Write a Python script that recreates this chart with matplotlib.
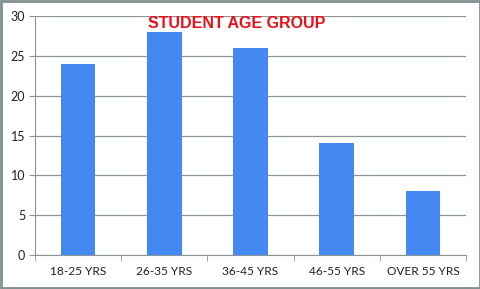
import matplotlib
matplotlib.use("Agg")
import matplotlib.pyplot as plt
from matplotlib.patches import Rectangle

categories = ["18-25 YRS", "26-35 YRS", "36-45 YRS", "46-55 YRS", "OVER 55 YRS"]
students = [24, 28, 26, 14, 8]
y_ticks = [0, 5, 10, 15, 20, 25, 30]

BAR_COLOR = "#4489f2"
AXIS_COLOR = "#8c9696"

fig = plt.figure(figsize=(4.81, 2.89), dpi=100)
ax = fig.add_axes([0.0728, 0.1176, 0.896, 0.827])

x = list(range(len(categories)))
ax.bar(x, students, width=0.4, color=BAR_COLOR, zorder=3)

ax.set_xlim(-0.5, len(categories) - 0.5)
ax.set_ylim(0, 30)
ax.set_yticks(y_ticks)
ax.yaxis.grid(True, color=AXIS_COLOR, linewidth=0.9, zorder=0)

# category labels centred under bars, tick marks at boundaries
ax.set_xticks(x)
ax.set_xticklabels(categories)
ax.tick_params(axis="x", length=0, pad=8)
ax.set_xticks([i - 0.5 for i in range(len(categories) + 1)], minor=True)
ax.tick_params(axis="x", which="minor", length=4, color=AXIS_COLOR, direction="out")
ax.tick_params(axis="y", length=4, color=AXIS_COLOR, direction="out", pad=3)

for lab in ax.get_xticklabels() + ax.get_yticklabels():
    lab.set_fontfamily("Lato")
    lab.set_color("#222222")
ax.tick_params(axis="x", labelsize=8.6)
ax.tick_params(axis="y", labelsize=9)

for s in ["top", "right"]:
    ax.spines[s].set_visible(False)
ax.spines["left"].set_color(AXIS_COLOR)
ax.spines["bottom"].set_color(AXIS_COLOR)

fig.text(0.493, 0.92, "STUDENT AGE GROUP", color="#e8101a", fontsize=11.5,
         fontweight="bold", family="Liberation Sans", ha="center", va="center")

fig.patches.append(Rectangle((0.002, 0.003), 0.996, 0.994, transform=fig.transFigure,
                             fill=False, edgecolor="#7e8f8f", linewidth=2))

fig.savefig("out.png", dpi=100)
